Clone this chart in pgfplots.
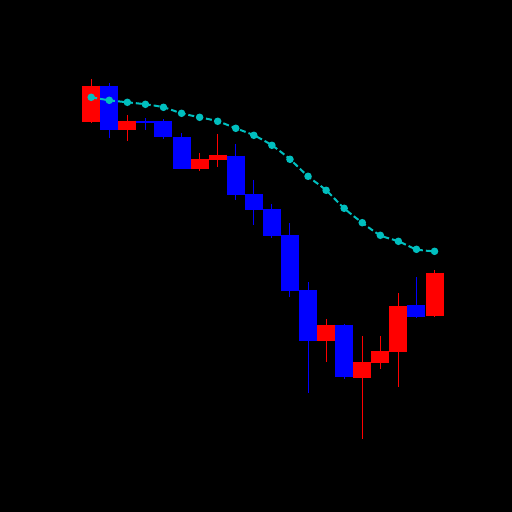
\documentclass[border=0pt]{standalone}
\usepackage{pgfplots}
\usepackage{pgfplotstable}
\pgfplotsset{compat=1.18}
\definecolor{macyan}{rgb}{0,0.75,0.75}

\pgfplotstableread{
i open close high low
0 390.3 426.3 433.0 389.3
2 382.0 391.3 397.0 371.3
6 343.0 353.0 359.0 341.3
7 352.0 357.0 378.0 345.0
13 171.0 187.0 193.0 150.3
15 134.3 150.3 176.0 73.0
16 149.0 161.0 176.0 143.0
17 160.3 206.3 219.0 125.0
19 196.0 239.0 242.0 195.0
}\upcandles

\pgfplotstableread{
i open close high low
1 426.3 382.3 428.7 374.3
3 391.3 389.0 393.7 382.0
4 391.0 375.0 392.7 372.7
5 375.0 343.0 378.7 343.0
8 356.3 317.0 368.0 312.0
9 318.0 302.0 332.0 287.0
10 303.0 276.3 308.0 274.0
11 277.0 221.0 288.7 215.3
12 222.0 171.0 229.7 119.3
14 187.0 135.0 188.0 133.0
18 207.0 195.0 235.0 194.3
}\downcandles

\pgfplotstableread{
i ma
0 414.7
1 411.7
2 409.7
3 407.7
4 404.7
5 398.7
6 394.7
7 390.7
8 383.7
9 376.7
10 366.7
11 352.7
12 335.7
13 321.7
14 303.7
15 289.3
16 276.7
17 270.7
18 262.7
19 260.7
}\matable

\begin{document}
\begin{tikzpicture}
\fill[black] (0,0) rectangle (512bp,512bp);
\begin{axis}[
  at={(0,0)}, anchor=south west,
  scale only axis, width=512bp, height=512bp,
  hide axis,
  xmin=-5.047, xmax=23.287,
  ymin=0, ymax=512,
]
% wicks
\addplot[draw=none, mark=none, error bars/.cd, y dir=minus, y explicit,
  error mark=none, error bar style={draw=red, line width=1bp}]
  table[x=i, y=high, y error minus expr={\thisrow{high}-\thisrow{low}}] {\upcandles};
\addplot[draw=none, mark=none, error bars/.cd, y dir=minus, y explicit,
  error mark=none, error bar style={draw=blue, line width=1bp}]
  table[x=i, y=high, y error minus expr={\thisrow{high}-\thisrow{low}}] {\downcandles};
% bodies
\addplot[draw=none, mark=none, error bars/.cd, y dir=minus, y explicit,
  error mark=none, error bar style={draw=red, line width=18bp, line cap=butt}]
  table[x=i, y=close, y error minus expr={\thisrow{close}-\thisrow{open}}] {\upcandles};
\addplot[draw=none, mark=none, error bars/.cd, y dir=minus, y explicit,
  error mark=none, error bar style={draw=blue, line width=18bp, line cap=butt}]
  table[x=i, y=open, y error minus expr={\thisrow{open}-\thisrow{close}}] {\downcandles};
% moving average
\addplot[macyan, line width=2bp, smooth, dash pattern=on 6bp off 3bp,
  mark=*, mark size=2.7bp, mark options={solid, fill=macyan, draw=macyan}]
  table[x=i, y=ma] {\matable};
\end{axis}
\end{tikzpicture}
\end{document}
